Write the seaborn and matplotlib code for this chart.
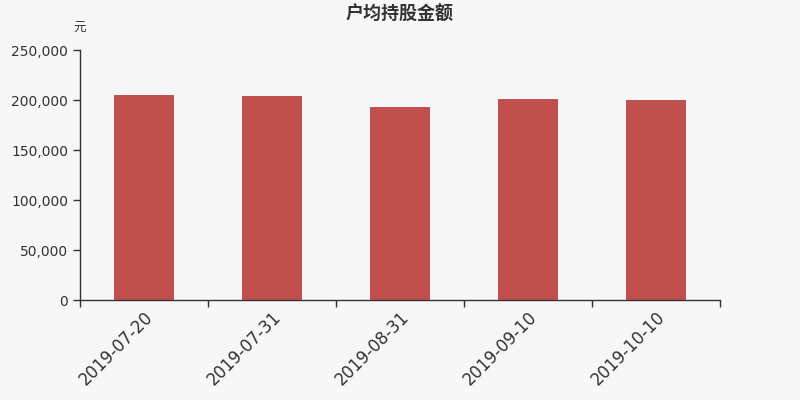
import matplotlib
matplotlib.use("Agg")
import matplotlib.pyplot as plt
import seaborn as sns
import numpy as np

# data
dates = ["2019-07-20", "2019-07-31", "2019-08-31", "2019-09-10", "2019-10-10"]
amounts = [204600, 204500, 192900, 200700, 199800]

sns.set_style("white")
plt.rcParams['font.family'] = ['DejaVu Sans', 'Noto Sans CJK SC']

fig = plt.figure(figsize=(8, 4), dpi=100, facecolor="#f7f7f7")
ax = fig.add_axes([0.1, 0.25, 0.8, 0.625])
ax.set_facecolor("#f7f7f7")

sns.barplot(x=dates, y=amounts, color="#c0504d", width=0.47, saturation=1,
            linewidth=0, ax=ax)

ax.set_xlim(-0.5, len(dates) - 0.5)
ax.set_ylim(0, 250000)
ax.set_yticks(np.arange(0, 250001, 50000))
ax.set_yticklabels([f"{v:,}" for v in range(0, 250001, 50000)], fontsize=10, color="#333333")

# ticks between categories
ax.set_xticks(np.arange(len(dates)))
ax.set_xticklabels(dates, rotation=45, ha="right", rotation_mode="anchor", fontsize=12, color="#333333")
ax.set_xticks(np.arange(-0.5, len(dates)), minor=True)
ax.tick_params(axis="x", which="major", length=0, pad=6, bottom=True)
ax.tick_params(axis="x", which="minor", length=5, width=1, color="#333333",
               direction="out", bottom=True)
ax.tick_params(axis="y", length=5, width=1, color="#333333", direction="out", left=True)

for s in ["top", "right"]:
    ax.spines[s].set_visible(False)
for s in ["left", "bottom"]:
    ax.spines[s].set_color("#333333")
    ax.spines[s].set_linewidth(1)

fig.text(0.5, 0.965, "户均持股金额", ha="center", va="center", fontsize=13,
         fontweight="bold", color="#333333", family=["Noto Sans CJK SC", "DejaVu Sans"])
fig.text(0.1, 0.928, "元", ha="center", va="center", fontsize=9,
         color="#333333", family=["Noto Sans CJK SC", "DejaVu Sans"])

fig.savefig("out.png", dpi=100, facecolor=fig.get_facecolor())
